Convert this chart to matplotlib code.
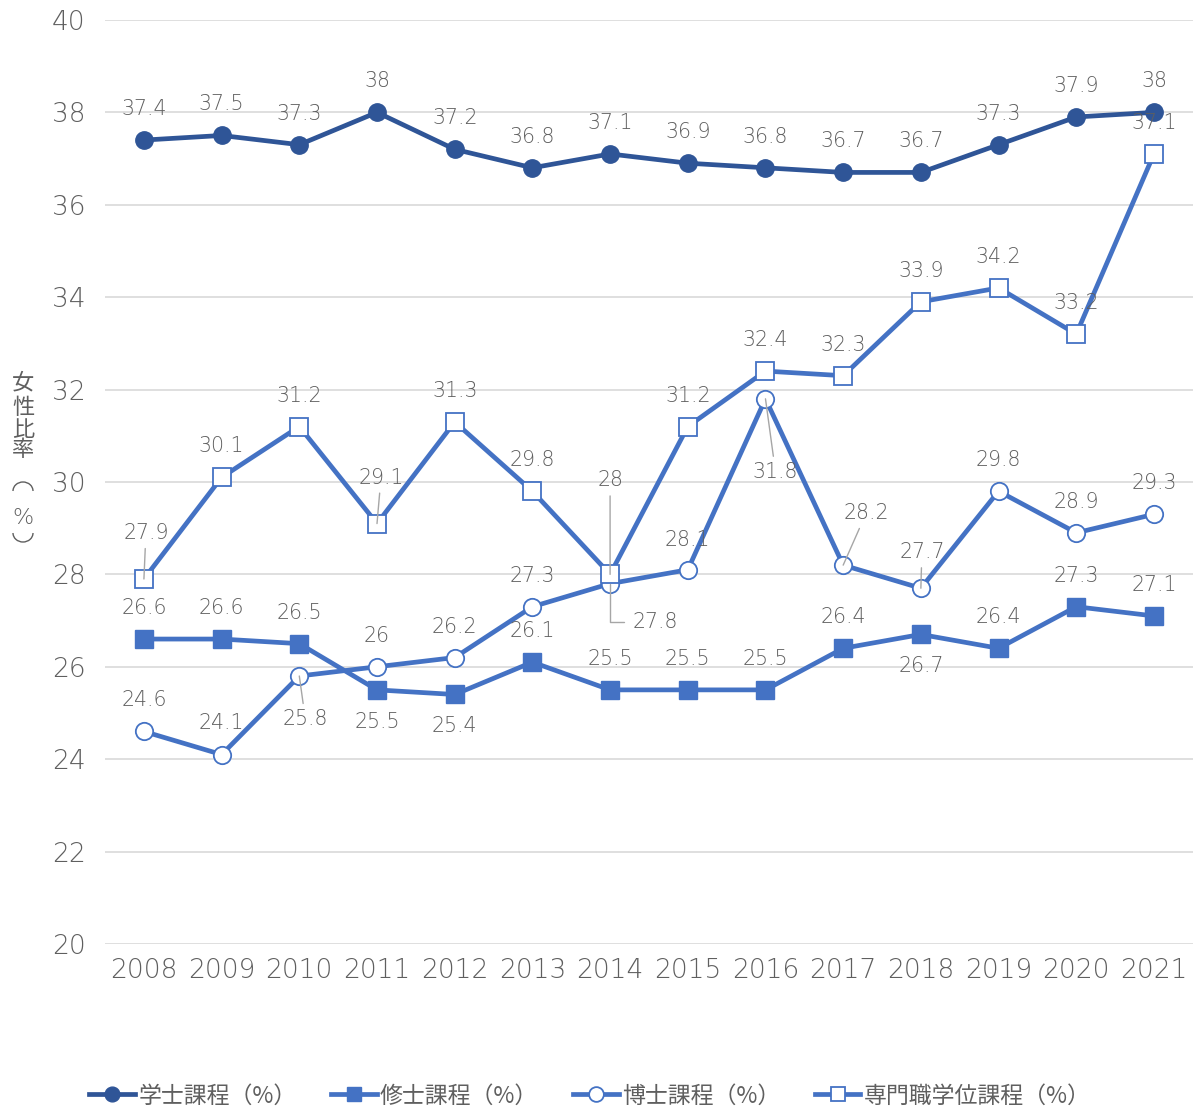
import matplotlib
matplotlib.use('Agg')
import matplotlib.pyplot as plt
from matplotlib.patches import Arc

plt.rcParams['font.family'] = ['Noto Sans CJK JP', 'DejaVu Sans']

# Data
years = [2008, 2009, 2010, 2011, 2012, 2013, 2014, 2015, 2016, 2017, 2018, 2019, 2020, 2021]
bachelor = [37.4, 37.5, 37.3, 38, 37.2, 36.8, 37.1, 36.9, 36.8, 36.7, 36.7, 37.3, 37.9, 38]
master = [26.6, 26.6, 26.5, 25.5, 25.4, 26.1, 25.5, 25.5, 25.5, 26.4, 26.7, 26.4, 27.3, 27.1]
doctor = [24.6, 24.1, 25.8, 26, 26.2, 27.3, 27.8, 28.1, 31.8, 28.2, 27.7, 29.8, 28.9, 29.3]
professional = [27.9, 30.1, 31.2, 29.1, 31.3, 29.8, 28, 31.2, 32.4, 32.3, 33.9, 34.2, 33.2, 37.1]
series_names = ['学士課程（%）', '修士課程（%）', '博士課程（%）', '専門職学位課程（%）']

# label offsets in pixels (dx, dy), positive dy = up
up = (0, 31)
bachelor_off = [up] * 14
master_off = [up, up, up, (0, -32), (0, -32), up, up, up, up, up, (0, -32), up, up, up]
doctor_off = [up, (0, 32), (6, -43), up, up, up, (45, -38), (0, 30), (10, -73), (23, 52),
              (1, 36), up, up, up]
professional_off = [(2, 46), up, up, (4, 46), up, up, (0, 94), up, up, up, up, up, up, up]
doctor_leader = [False, False, True, False, False, False, 'elbow', False, True, True,
                 True, False, False, False]
professional_leader = [True, False, False, True, False, False, True, False, False, False,
                       False, False, False, False]

dark_blue = '#2F5597'
blue = '#4472C4'
gray_text = '#5f5f5f'
num_font = ['DejaVu Sans']
num_weight = 'light'

fig = plt.figure(figsize=(11.94, 11.09), dpi=100)
ax = fig.add_axes([0.088, 0.1488, 0.911, 0.8332])

x = list(range(len(years)))
lw = 3.4
ms = 12.5
ax.plot(x, bachelor, color=dark_blue, lw=lw, marker='o', ms=ms, mfc=dark_blue,
        mec=dark_blue, label=series_names[0], zorder=4)
ax.plot(x, master, color=blue, lw=lw, marker='s', ms=ms, mfc=blue,
        mec=blue, label=series_names[1], zorder=4)
ax.plot(x, doctor, color=blue, lw=lw, marker='o', ms=ms, mfc='white',
        mec=blue, mew=1.3, label=series_names[2], zorder=4)
ax.plot(x, professional, color=blue, lw=lw, marker='s', ms=ms, mfc='white',
        mec=blue, mew=1.3, label=series_names[3], zorder=5)

lab_fs = 14.8


def label_series(vals, offs, leaders=None):
    for i, (v, (dx, dy)) in enumerate(zip(vals, offs)):
        txt = f'{v:g}'
        lead = leaders[i] if leaders else False
        kw = dict(xy=(x[i], v), xytext=(dx, dy), textcoords='offset pixels',
                  ha='center', va='center', fontsize=lab_fs, color=gray_text,
                  family=num_font, fontweight=num_weight, zorder=6)
        if lead == 'elbow':
            kw['arrowprops'] = dict(arrowstyle='-', color='#A6A6A6', lw=1.0,
                                    connectionstyle='angle,angleA=0,angleB=90,rad=0',
                                    shrinkA=4, shrinkB=0)
        elif lead:
            kw['arrowprops'] = dict(arrowstyle='-', color='#A6A6A6', lw=1.0,
                                    shrinkA=2, shrinkB=0)
        ax.annotate(txt, **kw)


label_series(bachelor, bachelor_off)
label_series(master, master_off)
label_series(doctor, doctor_off, doctor_leader)
label_series(professional, professional_off, professional_leader)

ax.set_ylim(20, 40)
ax.set_yticks(range(20, 41, 2))
ax.set_xlim(-0.5, len(years) - 0.5)
ax.set_xticks(x)
ax.set_xticklabels([str(y) for y in years])
ax.tick_params(axis='both', length=0, labelsize=19, colors=gray_text)
ax.tick_params(axis='x', pad=10)
ax.tick_params(axis='y', pad=14)
for t in ax.get_xticklabels() + ax.get_yticklabels():
    t.set_family(num_font)
    t.set_fontweight(num_weight)
ax.grid(axis='y', color='#D9D9D9', lw=1.2, zorder=0)
ax.set_axisbelow(True)
for s in ax.spines.values():
    s.set_visible(False)

# vertical y-axis title, stacked characters (brackets drawn as vertical-form arcs)
W, H = 1194, 1109
ylab_chars = [('女', 383), ('性', 408), ('比', 429), ('率', 450)]
for ch, py in ylab_chars:
    fig.text(23 / W, 1 - py / H, ch, ha='center', va='center',
             fontsize=16, color=gray_text)
fig.text(23 / W, 1 - 518 / H, '%', ha='center', va='center', fontsize=16,
         color=gray_text, family=num_font, fontweight=num_weight)
fig.add_artist(Arc((23 / W, 1 - 491 / H), 20 / W, 18 / H, theta1=0, theta2=180,
                   transform=fig.transFigure, color=gray_text, lw=1.0))
fig.add_artist(Arc((23 / W, 1 - 533 / H), 20 / W, 18 / H, theta1=180, theta2=360,
                   transform=fig.transFigure, color=gray_text, lw=1.0))

leg = fig.legend(loc='center', bbox_to_anchor=(0.494, 1 - 1096 / 1109), ncol=4,
                 frameon=False, fontsize=16.5, handlelength=2.0, columnspacing=1.5,
                 handletextpad=0.15, markerscale=0.85)
for t in leg.get_texts():
    t.set_color(gray_text)

fig.savefig('out.png', dpi=100)
